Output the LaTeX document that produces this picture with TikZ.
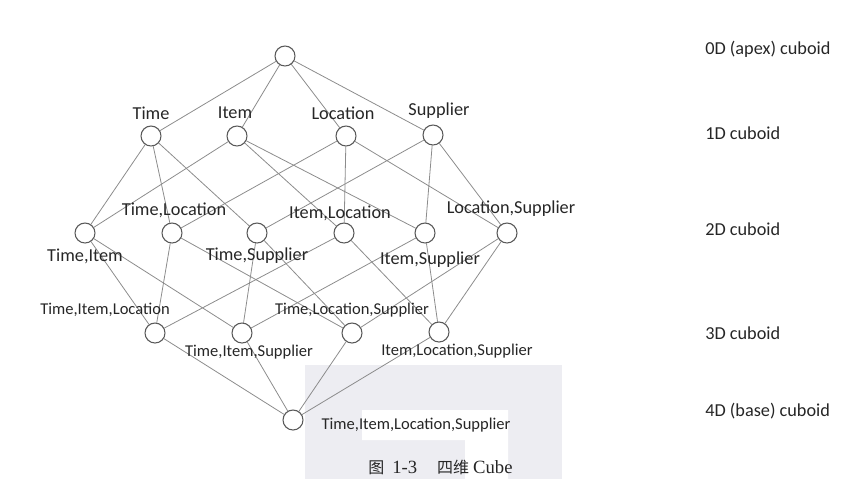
\documentclass[tikz,border=0pt]{standalone}
\usepackage{fontspec}
\setmainfont{Carlito}
\newfontfamily\cjkfont{Noto Sans CJK SC}
\newfontfamily\capfont{Liberation Serif}
\definecolor{wmark}{HTML}{EDEDF2}
\begin{document}
\begin{tikzpicture}[
    x=0.75pt,
    y=-0.75pt,
    line cap=round,
    line join=round,
    cuboid/.style={circle,draw=black!65,fill=white,line width=0.8pt,minimum size=15pt,inner sep=0pt},
    link/.style={draw=black!45,line width=0.6pt},
    bigtxt/.style={text=black!85,font=\fontsize{13.7}{15}\selectfont,inner sep=0pt},
    smalltxt/.style={text=black!85,font=\fontsize{12.4}{14}\selectfont,inner sep=0pt},
    leveltxt/.style={bigtxt,anchor=west}
]

\useasboundingbox (0,0) rectangle (849,479);

% -------------------------------------------------
% Фон (водяной знак)
% -------------------------------------------------

\fill[wmark] (305,365) rectangle (562,479);
\fill[white] (362,410) -- (508,410) -- (508,479) -- (465,479)
  -- (465,440) -- (362,440) -- cycle;

% -------------------------------------------------
% Вершины решётки
% -------------------------------------------------

\node[cuboid] (apex) at (285,56) {};

\node[cuboid] (T) at (151,136) {};
\node[cuboid] (I) at (237,136) {};
\node[cuboid] (L) at (346,136) {};
\node[cuboid] (S) at (433,135) {};

\node[cuboid] (TI) at (85,233) {};
\node[cuboid] (TL) at (172,233) {};
\node[cuboid] (TS) at (257,233) {};
\node[cuboid] (IL) at (344,233) {};
\node[cuboid] (IS) at (425,233) {};
\node[cuboid] (LS) at (507,233) {};

\node[cuboid] (TIL) at (155,333) {};
\node[cuboid] (TIS) at (242,333) {};
\node[cuboid] (TLS) at (352,333) {};
\node[cuboid] (ILS) at (439,332) {};

\node[cuboid] (base) at (293,420) {};

% -------------------------------------------------
% Рёбра
% -------------------------------------------------

\foreach \v in {T,I,L,S}
  \draw[link] (apex)--(\v);

\draw[link] (T)--(TI);
\draw[link] (T)--(TL);
\draw[link] (T)--(TS);
\draw[link] (I)--(TI);
\draw[link] (I)--(IL);
\draw[link] (I)--(IS);
\draw[link] (L)--(TL);
\draw[link] (L)--(IL);
\draw[link] (L)--(LS);
\draw[link] (S)--(TS);
\draw[link] (S)--(IS);
\draw[link] (S)--(LS);

\draw[link] (TI)--(TIL);
\draw[link] (TL)--(TIL);
\draw[link] (IL)--(TIL);
\draw[link] (TI)--(TIS);
\draw[link] (TS)--(TIS);
\draw[link] (IS)--(TIS);
\draw[link] (TL)--(TLS);
\draw[link] (TS)--(TLS);
\draw[link] (LS)--(TLS);
\draw[link] (IL)--(ILS);
\draw[link] (IS)--(ILS);
\draw[link] (LS)--(ILS);

\foreach \v in {TIL,TIS,TLS,ILS}
  \draw[link] (\v)--(base);

% -------------------------------------------------
% Подписи вершин
% -------------------------------------------------

\node[bigtxt] (tT) at (151,113) {Time};
\node[bigtxt] (tI) at (235,113) {Item};
\node[bigtxt] (tL) at (343,113) {Location};
\node[bigtxt] (tS) at (439,111) {Supplier};

\node[bigtxt] (tTL) at (174,210) {Time,Location};
\node[bigtxt] (tIL) at (340,213) {Item,Location};
\node[bigtxt] (tLS) at (511,209) {Location,Supplier};
\node[bigtxt] (tTI) at (85,256)  {Time,Item};
\node[bigtxt] (tTS) at (257,256) {Time,Supplier};
\node[bigtxt] (tIS) at (430,260) {Item,Supplier};

\node[smalltxt] (tTIL) at (105,310) {Time,Item,Location};
\node[smalltxt] (tTLS) at (352,310) {Time,Location,Supplier};
\node[smalltxt] (tTIS) at (249,352) {Time,Item,Supplier};
\node[smalltxt] (tILS) at (457,351) {Item,Location,Supplier};

\node[smalltxt] (tbase) at (416,425) {Time,Item,Location,Supplier};

% -------------------------------------------------
% Уровни
% -------------------------------------------------

\node[leveltxt] (lv0) at (705,49)  {0D (apex) cuboid};
\node[leveltxt] (lv1) at (705,133) {1D cuboid};
\node[leveltxt] (lv2) at (705,229) {2D cuboid};
\node[leveltxt] (lv3) at (705,333) {3D cuboid};
\node[leveltxt] (lv4) at (705,411) {4D (base) cuboid};

% -------------------------------------------------
% Подпись рисунка
% -------------------------------------------------

\node[text=black!85,inner sep=0pt,anchor=west] (cap) at (368,467)
  {{\cjkfont\fontsize{12}{14}\selectfont 图}\hspace{6pt}%
   {\capfont\fontsize{14}{16}\selectfont 1-3}\hspace{15pt}%
   {\cjkfont\fontsize{12}{14}\selectfont 四维}\hspace{3pt}%
   {\capfont\fontsize{14}{16}\selectfont Cube}};

\end{tikzpicture}
\end{document}
